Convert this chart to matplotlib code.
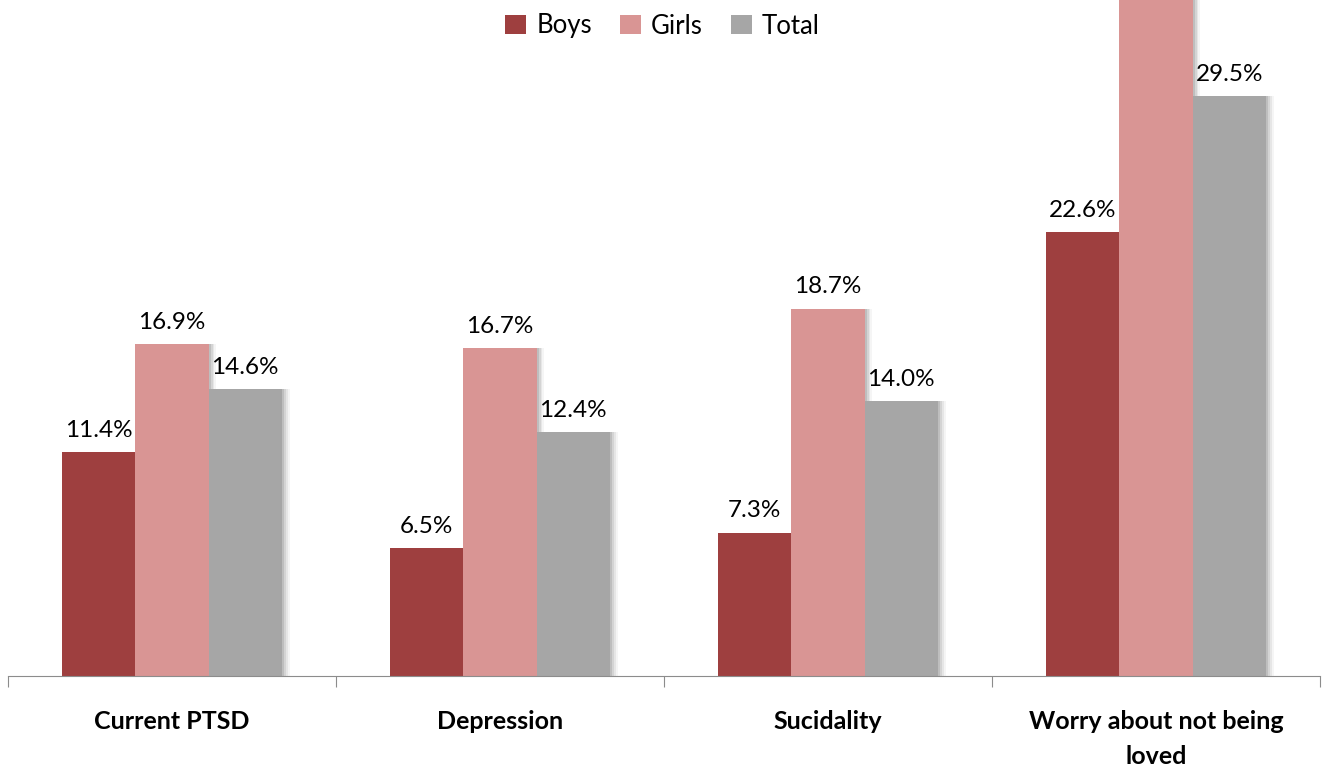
import numpy as np
import matplotlib
matplotlib.use("Agg")
import matplotlib.pyplot as plt

categories = ["Current PTSD", "Depression", "Sucidality", "Worry about not being\nloved"]
series = ["Boys", "Girls", "Total"]
boys = [11.4, 6.5, 7.3, 22.6]
girls = [16.9, 16.7, 18.7, 36.0]   # last value cut off in the original, estimated
total = [14.6, 12.4, 14.0, 29.5]
colors = ["#9E3F3F", "#D99594", "#A6A6A6"]

plt.rcParams['font.family'] = ['Lato', 'DejaVu Sans']

fig = plt.figure(figsize=(13.25, 7.74), dpi=100)
ax = fig.add_axes([8/1325, 1 - 676/774, 1312/1325, 676/774])

x = np.arange(len(categories))
w = 0.223
for i, (name, vals, c) in enumerate(zip(series, [boys, girls, total], colors)):
    pos = x + (i - 1) * w
    # soft shadow on the right side
    for k, a in enumerate([0.10, 0.08, 0.06, 0.04]):
        ax.bar(pos + 0.006 * (k + 1), vals, w, color="black", alpha=a,
               linewidth=0, zorder=1)
    bars = ax.bar(pos, vals, w, color=c, label=name, zorder=2 + i * 0.1, linewidth=0)
    ax.bar_label(bars, labels=[f"{v:.1f}%" for v in vals], padding=8,
                 fontsize=17.5, zorder=5)

ax.set_xlim(-0.5, len(categories) - 0.5)
ax.set_ylim(0, 676 / 19.65)
ax.set_yticks([])
for s in ["top", "left", "right"]:
    ax.spines[s].set_visible(False)
ax.spines["bottom"].set_color("#8C8C8C")
ax.set_xticks(np.arange(len(categories) + 1) - 0.5, minor=False)
ax.set_xticklabels([])
ax.tick_params(axis="x", length=8, color="#8C8C8C", direction="out")
for xi, lab in zip(x, categories):
    ax.text(xi, -0.05, lab, transform=ax.get_xaxis_transform(), ha="center",
            va="top", fontsize=18, fontweight="bold", linespacing=1.65)

handles, labels = ax.get_legend_handles_labels()
fig.legend(handles, labels, loc="center", bbox_to_anchor=(0.5, 1 - 26/774),
           ncol=3, frameon=False, fontsize=18.5, handlelength=0.8, handleheight=0.8,
           handletextpad=0.4, columnspacing=1.1)

fig.savefig("out.png", dpi=100)
